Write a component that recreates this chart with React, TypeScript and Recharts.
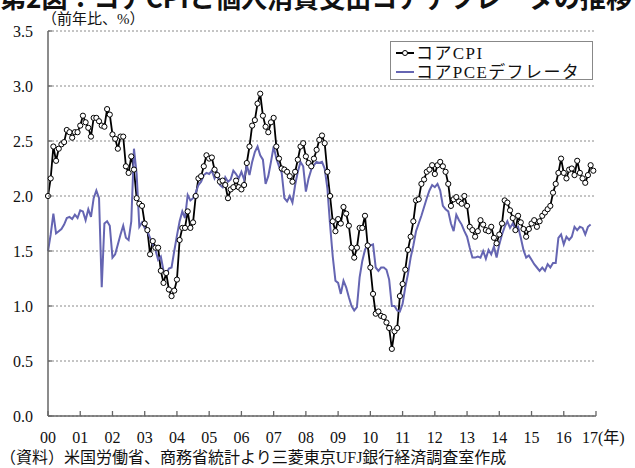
import React from 'react';
import { LineChart, Line, XAxis, YAxis, CartesianGrid, Legend } from 'recharts';

const yearLabels = ['00','01','02','03','04','05','06','07','08','09','10','11','12','13','14','15','16','17'];
const yTicks = [0, 0.5, 1.0, 1.5, 2.0, 2.5, 3.0, 3.5];

// Core CPI, y/y %, monthly from Jan 2000
const cpi = [
  2.00, 2.16, 2.45, 2.32, 2.43, 2.47, 2.49, 2.60, 2.58, 2.53, 2.58, 2.58,
  2.64, 2.73, 2.67, 2.62, 2.54, 2.71, 2.71, 2.68, 2.64, 2.63, 2.79, 2.74,
  2.56, 2.52, 2.43, 2.54, 2.54, 2.27, 2.21, 2.36, 2.24, 1.98, 1.93, 1.91,
  1.75, 1.69, 1.47, 1.59, 1.53, 1.53, 1.32, 1.21, 1.30, 1.15, 1.09, 1.14,
  1.24, 1.60, 1.71, 1.71, 1.86, 1.71, 1.76, 2.00, 2.16, 2.18, 2.27, 2.37,
  2.34, 2.35, 2.24, 2.19, 2.13, 2.14, 2.10, 1.98, 2.06, 2.08, 2.14, 2.08,
  2.06, 2.10, 2.30, 2.45, 2.64, 2.69, 2.84, 2.93, 2.73, 2.63, 2.58, 2.67,
  2.71, 2.45, 2.34, 2.25, 2.24, 2.22, 2.18, 2.13, 2.22, 2.33, 2.45, 2.48,
  2.36, 2.30, 2.27, 2.34, 2.42, 2.51, 2.55, 2.48, 2.22, 2.00, 1.77, 1.68,
  1.79, 1.75, 1.90, 1.84, 1.73, 1.53, 1.44, 1.53, 1.71, 1.71, 1.82, 1.55,
  1.35, 1.11, 0.93, 0.95, 0.91, 0.90, 0.85, 0.80, 0.61, 0.77, 0.80, 1.09,
  1.20, 1.33, 1.51, 1.63, 1.77, 1.96, 1.97, 2.11, 2.15, 2.22, 2.24, 2.28,
  2.20, 2.28, 2.31, 2.27, 2.22, 2.11, 1.91, 1.97, 1.99, 1.95, 1.93, 2.00,
  1.91, 1.72, 1.69, 1.63, 1.68, 1.78, 1.74, 1.69, 1.68, 1.72, 1.62, 1.57,
  1.65, 1.75, 1.96, 1.94, 1.87, 1.80, 1.69, 1.82, 1.76, 1.70, 1.63, 1.70,
  1.75, 1.78, 1.72, 1.77, 1.82, 1.85, 1.88, 1.91, 2.03, 2.11, 2.21, 2.34,
  2.21, 2.16, 2.24, 2.25, 2.19, 2.32, 2.21, 2.16, 2.12, 2.19, 2.28, 2.23,
];

// Core PCE deflator, y/y %, monthly from Jan 2000
const pce = [
  1.50, 1.65, 1.84, 1.66, 1.68, 1.70, 1.74, 1.80, 1.81, 1.79, 1.83, 1.80,
  1.87, 1.86, 1.78, 1.88, 1.81, 1.98, 2.05, 1.98, 1.17, 1.75, 1.77, 1.73,
  1.44, 1.47, 1.56, 1.65, 1.73, 1.62, 1.60, 1.77, 2.43, 2.20, 1.72, 1.76,
  1.71, 1.68, 1.62, 1.56, 1.51, 1.42, 1.45, 1.32, 1.29, 1.34, 1.35, 1.50,
  1.64, 1.77, 1.86, 1.80, 2.01, 1.96, 1.98, 2.03, 2.10, 2.13, 2.19, 2.21,
  2.20, 2.23, 2.16, 2.21, 2.10, 2.08, 2.17, 2.13, 2.15, 2.23, 2.20, 2.16,
  2.22, 2.15, 2.28, 2.19, 2.31, 2.40, 2.45, 2.37, 2.33, 2.11, 2.18, 2.31,
  2.45, 2.34, 2.27, 2.21, 1.98, 1.95, 2.00, 1.94, 2.10, 2.22, 2.31, 2.27,
  2.04, 2.16, 2.24, 2.28, 2.31, 2.30, 2.31, 2.25, 2.07, 1.74, 1.45, 1.23,
  1.21, 1.11, 1.23, 1.17, 1.08, 1.00, 0.96, 0.99, 1.26, 1.41, 1.51, 1.56,
  1.55, 1.56, 1.35, 1.32, 1.35, 1.35, 1.33, 1.24, 1.00, 1.00, 0.96, 0.95,
  1.02, 1.17, 1.29, 1.44, 1.55, 1.68, 1.75, 1.82, 1.90, 1.98, 2.05, 2.10,
  2.08, 2.11, 2.05, 1.91, 1.88, 1.86, 1.75, 1.68, 1.83, 1.78, 1.74, 1.68,
  1.63, 1.53, 1.44, 1.44, 1.45, 1.44, 1.50, 1.43, 1.51, 1.47, 1.54, 1.44,
  1.56, 1.65, 1.72, 1.77, 1.71, 1.75, 1.70, 1.72, 1.62, 1.51, 1.44, 1.46,
  1.42, 1.38, 1.35, 1.32, 1.35, 1.32, 1.38, 1.35, 1.39, 1.39, 1.62, 1.65,
  1.56, 1.63, 1.60, 1.63, 1.72, 1.69, 1.72, 1.71, 1.65, 1.72, 1.74,
];

const MONTHS = yearLabels.length * 12 - 12; // 204
const xTicks = yearLabels.map((_, i) => i * 12);

const data = Array.from({ length: MONTHS }, (_, i) => ({
  m: i,
  cpi: i < cpi.length ? cpi[i] : null,
  pce: i < pce.length ? pce[i] : null,
}));

const PCE_COLOR = '#6565b2';
const FRAME = '#666';
const SERIF = '"Liberation Serif", "Times New Roman", Times, serif';
const MIXED = '"Liberation Serif", "Times New Roman", "Noto Sans CJK JP", serif';

const XTick = (props: any) => {
  const { x, y, payload } = props;
  const idx = Math.round(payload.value / 12);
  const label = yearLabels[idx];
  const last = idx === yearLabels.length - 1;
  return (
    <g>
      <line x1={x} y1={y} x2={x} y2={y - 5} stroke={FRAME} strokeWidth={1.3} />
      <text
        x={last ? x - 14 : x}
        y={y + 27}
        textAnchor={last ? 'start' : 'middle'}
        style={{ fontSize: 16, fontFamily: MIXED }}
        fill="#111"
      >
        {last ? `${label}(年)` : label}
      </text>
    </g>
  );
};

const YTick = (props: any) => {
  const { x, y, payload } = props;
  return (
    <g>
      <line x1={x} y1={y} x2={x + 4} y2={y} stroke={FRAME} strokeWidth={1.3} />
      <text x={x - 15} y={y + 5.5} textAnchor="end" style={{ fontSize: 16, fontFamily: SERIF }} fill="#111">
        {Number(payload.value).toFixed(1)}
      </text>
    </g>
  );
};

const renderLegend = () => (
  <div
    style={{
      width: 203,
      height: 39,
      boxSizing: 'border-box',
      border: '1px solid #888',
      background: '#fff',
      position: 'relative',
    }}
  >
    <svg width={201} height={37} style={{ position: 'absolute', left: 0, top: 0, overflow: 'visible' }}>
      <line x1={5} y1={11} x2={23} y2={11} stroke="#000" strokeWidth={2} />
      <circle cx={14} cy={11} r={2.5} fill="#fff" stroke="#000" strokeWidth={1} />
      <text x={25} y={17} style={{ fontSize: 17, fontFamily: MIXED, letterSpacing: 1.4 }} fill="#111">コアCPI</text>
      <line x1={5} y1={30} x2={23} y2={30} stroke={PCE_COLOR} strokeWidth={2} />
      <text x={25} y={35.5} style={{ fontSize: 17, fontFamily: MIXED, letterSpacing: 1.4 }} fill="#111">コアPCEデフレータ</text>
    </svg>
  </div>
);

export default function App() {
  return (
    <div style={{ position: 'absolute', left: 0, top: 0, width: 635, height: 468, background: '#fff' }}>
      <LineChart
        width={635}
        height={468}
        data={data}
        margin={{ top: 31, right: 39, bottom: 0, left: 0 }}
      >
        <CartesianGrid vertical={false} stroke="#8a8a8a" strokeDasharray="2 2" />
        <XAxis
          dataKey="m"
          type="number"
          domain={[0, MONTHS]}
          ticks={xTicks}
          interval={0}
          height={52}
          tickSize={0}
          tickMargin={0}
          tick={<XTick />}
          axisLine={{ stroke: FRAME, strokeWidth: 1.5 }}
          tickLine={false}
        />
        <XAxis
          xAxisId="top"
          orientation="top"
          dataKey="m"
          type="number"
          domain={[0, MONTHS]}
          height={0}
          tick={false}
          tickLine={false}
          axisLine={{ stroke: FRAME, strokeWidth: 1.5 }}
        />
        <YAxis
          type="number"
          domain={[0, 3.5]}
          ticks={yTicks}
          interval={0}
          width={48}
          tickSize={0}
          tickMargin={0}
          tick={<YTick />}
          axisLine={{ stroke: FRAME, strokeWidth: 1.5 }}
          tickLine={false}
        />
        <YAxis
          yAxisId="right"
          orientation="right"
          type="number"
          domain={[0, 3.5]}
          width={0}
          tick={false}
          tickLine={false}
          axisLine={{ stroke: FRAME, strokeWidth: 1.5 }}
        />
        <Legend
          layout="horizontal"
          verticalAlign="middle"
          align="center"
          content={renderLegend}
          wrapperStyle={{ left: 390, top: 41, width: 203, height: 39 }}
        />
        <Line
          dataKey="cpi"
          stroke="#000"
          strokeWidth={1.8}
          dot={{ r: 2.6, fill: '#fff', stroke: '#000', strokeWidth: 1 }}
          isAnimationActive={false}
          connectNulls={false}
        />
        <Line
          dataKey="pce"
          stroke={PCE_COLOR}
          strokeWidth={2}
          dot={false}
          isAnimationActive={false}
          connectNulls={false}
        />
      </LineChart>
      <svg
        width={635}
        height={468}
        style={{ position: 'absolute', left: 0, top: 0, pointerEvents: 'none' }}
      >
        <text x={0} y={8} textLength={632} lengthAdjust="spacingAndGlyphs" style={{ fontSize: 27, fontWeight: 'bold', fontFamily: '"Noto Sans CJK JP", sans-serif' }} fill="#111">
          第2図：コアCPIと個人消費支出コアデフレータの推移
        </text>
        <text x={42} y={24} style={{ fontSize: 15, fontFamily: MIXED }} fill="#111">（前年比、%）</text>
        <text x={0} y={463} style={{ fontSize: 16, fontFamily: MIXED }} fill="#111">
          （資料）米国労働省、商務省統計より三菱東京UFJ銀行経済調査室作成
        </text>
      </svg>
    </div>
  );
}
